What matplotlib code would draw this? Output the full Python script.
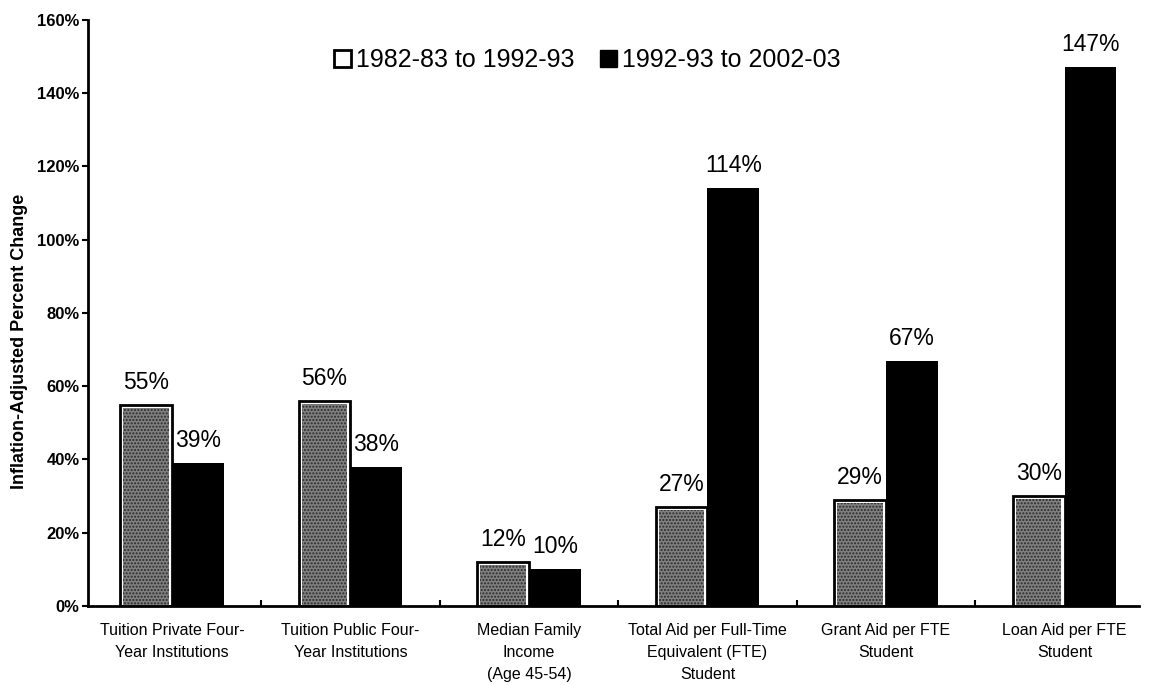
import numpy as np
import matplotlib.pyplot as plt
from matplotlib.patches import Patch

plt.rcParams['font.family'] = ['Liberation Sans', 'DejaVu Sans']

categories = ["Tuition Private Four-\nYear Institutions",
              "Tuition Public Four-\nYear Institutions",
              "Median Family\nIncome\n(Age 45-54)",
              "Total Aid per Full-Time\nEquivalent (FTE)\nStudent",
              "Grant Aid per FTE\nStudent",
              "Loan Aid per FTE\nStudent"]
first_decade = [55, 56, 12, 27, 29, 30]      # 1982-83 to 1992-93
second_decade = [39, 38, 10, 114, 67, 147]   # 1992-93 to 2002-03
series_names = ["1982-83 to 1992-93", "1992-93 to 2002-03"]
yticks = [0, 20, 40, 60, 80, 100, 120, 140, 160]

fig = plt.figure(figsize=(11.51, 6.85), dpi=100)
ax = fig.add_axes([0.0765, 0.1153, 0.9135, 0.8557])

x = np.arange(len(categories))
w = 0.29
inset = 0.018  # white gap between outline and speckled fill

# first series: black outline, thin white gap, speckled gray fill
ax.bar(x - w / 2, first_decade, w, color='white', edgecolor='black', linewidth=2)
ax.bar(x - w / 2, np.array(first_decade) - 0.9, w - 2 * inset, bottom=0,
       color='#808080', edgecolor='#2a2a2a', hatch='.....', linewidth=0)
ax.bar(x + w / 2, second_decade, w, color='black', linewidth=0)

# value labels
for xi, v in zip(x - w / 2, first_decade):
    ax.text(xi, v + 3, f"{v}%", ha='center', va='bottom', fontsize=16.5)
for xi, v in zip(x + w / 2, second_decade):
    ax.text(xi, v + 3, f"{v}%", ha='center', va='bottom', fontsize=16.5)

ax.set_xlim(-0.47, 5.42)
ax.set_ylim(0, 160)
ax.set_yticks(yticks)
ax.set_yticklabels([f"{t}%" for t in yticks], fontweight='bold', fontsize=12)
ax.set_xticks(x)
ax.set_xticklabels(categories, fontsize=11.5, linespacing=1.6)
ax.tick_params(axis='x', length=0, pad=12)
ax.set_xticks(x[:-1] + 0.5, minor=True)
ax.tick_params(axis='x', which='minor', direction='in', length=4, width=1.5)
ax.tick_params(axis='y', direction='out', length=4, width=1.5, pad=2)

for s in ['top', 'right']:
    ax.spines[s].set_visible(False)
for s in ['left', 'bottom']:
    ax.spines[s].set_linewidth(2)

ax.set_ylabel("Inflation-Adjusted Percent Change", fontweight='bold', fontsize=13)
ax.yaxis.set_label_coords(-0.057, 0.452)

handles = [Patch(facecolor='white', edgecolor='black', linewidth=2),
           Patch(facecolor='black', edgecolor='black')]
ax.legend(handles, series_names, loc='upper center', ncol=2, frameon=False,
          fontsize=18, handlelength=0.7, handleheight=0.7, handletextpad=0.2,
          columnspacing=1.0, bbox_to_anchor=(0.475, 0.99))

fig.savefig("out.png", dpi=100)
